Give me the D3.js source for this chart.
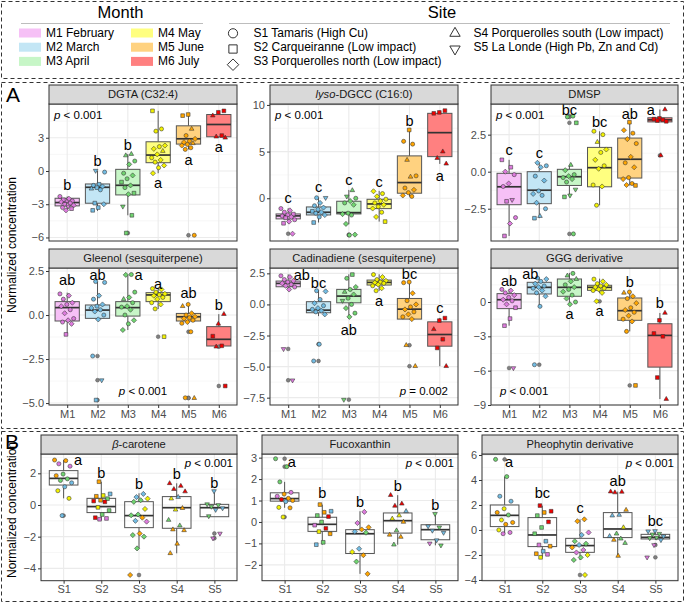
<!DOCTYPE html>
<html><head><meta charset="utf-8">
<script src="https://cdn.jsdelivr.net/npm/d3@7"></script>
<style>body{margin:0;background:#fff}svg{display:block;font-family:"Liberation Sans",Arial,sans-serif}</style>
</head><body><svg id="c" width="685" height="603"></svg>
<script>
// ---------------- categories ----------------
const months = ["M1","M2","M3","M4","M5","M6"];
const monthNames = ["February","March","April","May","June","July"];
const sites = ["S1","S2","S3","S4","S5"];
const siteNames = ["Tamaris (High Cu)","Carqueiranne (Low impact)","Porquerolles north (Low impact)","Porquerolles south (Low impact)","La Londe (High Pb, Zn and Cd)"];
const monthBoxFill = ["#F6C0F6","#C3E6F5","#C7F6C7","#FFFF80","#FFD280","#FF8080"];
const monthPointFill = ["#DD7BDD","#72BCE3","#70D470","#F2F200","#FFA500","#F00000"];

// ---------------- panel A data: box stats [lo,q1,med,q3,hi], points [value, site] ----------------
const dgtaBox = [[-3.6,-3.15,-2.85,-2.46,-2.3],[-3.6,-2.91,-1.47,-1.17,0.03],[-4.0,-2.16,-1.29,0.15,1.53],[-0.2,0.75,1.44,2.64,5.43],[1.95,2.43,2.91,4.08,5.1],[3.0,3.09,4.2,5.1,5.43]];
const dgtaPts = [
 [[-2.3,1],[-2.5,3],[-2.6,2],[-2.7,1],[-2.75,4],[-2.8,3],[-2.9,1],[-3.0,2],[-3.1,3],[-3.2,5],[-3.3,1],[-3.4,2],[-3.55,3]],
 [[0.03,5],[-0.1,1],[-1.2,2],[-1.3,1],[-1.4,3],[-1.5,2],[-1.6,4],[-1.7,1],[-2.9,2],[-3.0,3],[-3.3,2],[-3.55,2]],
 [[1.53,4],[1.4,4],[0.9,1],[0.6,3],[-0.2,1],[-0.4,3],[-0.7,1],[-1.0,2],[-1.3,3],[-1.5,1],[-2.0,2],[-2.1,3],[-3.2,5],[-4.0,2],[-5.6,2]],
 [[5.43,2],[3.8,1],[3.6,1],[2.3,3],[2.2,1],[2.0,3],[1.8,4],[1.5,3],[1.2,1],[1.0,3],[0.8,1],[0.5,3],[0.3,1],[-0.2,3]],
 [[5.1,2],[5.0,2],[3.8,4],[3.2,1],[2.9,3],[2.7,1],[2.6,3],[2.5,4],[2.4,1],[2.3,3],[2.1,1],[1.95,1],[-5.8,1]],
 [[5.43,2],[5.3,2],[5.0,4],[3.2,2],[3.1,4],[3.0,4]]];
const dgtaLet = [["b",-1.25,0],["b",0.9,0],["b",2.34,0],["a",-1.1,0],["a",1.0,0],["a",2.2,0]];

const lysoBox = [[-2.68,-2.21,-1.89,-1.68,-1.07],[-2.6,-1.79,-1.5,-0.93,0.1],[-2.79,-1.68,-1.54,-0.32,0.89],[-2.5,-1.11,-0.61,-0.11,0.79],[0.18,0.54,1.68,4.54,7.32],[3.68,4.46,7.03,9.1,9.39]];
const lysoPts = [
 [[-1.1,1],[-1.3,3],[-1.5,1],[-1.7,2],[-1.8,3],[-1.9,1],[-2.0,3],[-2.1,2],[-2.3,1],[-2.5,3],[-2.68,2],[-3.8,3]],
 [[0.05,1],[0.05,5],[-0.5,3],[-0.8,1],[-1.0,3],[-1.2,1],[-1.4,2],[-1.5,3],[-1.6,1],[-1.8,3],[-2.0,1],[-2.6,2]],
 [[0.85,4],[0.2,5],[0.0,1],[-0.3,3],[-0.5,1],[-0.7,3],[-1.6,1],[-1.7,3],[-1.8,1],[-2.75,3],[-3.9,3],[-3.95,1]],
 [[0.75,3],[0.5,1],[0.2,3],[-0.1,1],[-0.3,3],[-0.5,1],[-0.7,3],[-0.9,1],[-1.1,3],[-1.5,1],[-2.0,3],[-2.5,2]],
 [[7.32,2],[6.1,1],[5.8,1],[4.1,4],[2.4,1],[2.3,4],[1.1,1],[0.9,3],[0.6,1],[0.3,3],[0.2,1]],
 [[9.39,2],[9.2,2],[9.1,2],[5.0,4],[4.3,4],[3.7,4]]];
const lysoLet = [["c",0,0],["c",1.25,0],["c",2.0,0],["c",1.8,0],["b",8.3,0],["a",2.4,0]];

const dmspBox = [[-4.34,-2.23,-1.02,-0.11,0.8],[-3.14,-2.16,-1.25,0.0,0.6],[-1.7,-0.93,-0.34,0.16,0.45],[-2.27,-1.02,0.27,1.64,2.73],[-0.93,-0.43,0.84,2.27,3.34],[3.36,3.36,3.5,3.64,4.2]];
const dmspPts = [
 [[0.8,2],[0.3,2],[0.0,3],[-0.2,1],[-0.8,3],[-1.0,1],[-1.9,5],[-2.0,2],[-3.1,1],[-3.5,3],[-4.34,2]],
 [[0.6,3],[0.4,1],[0.3,3],[-0.3,1],[-0.6,3],[-1.3,1],[-1.5,3],[-1.6,1],[-2.1,3],[-2.5,1],[-3.0,4],[-3.14,2]],
 [[3.75,1],[3.7,1],[3.3,2],[0.45,4],[0.1,3],[-0.2,1],[-0.3,3],[-0.4,1],[-0.5,3],[-0.7,1],[-1.2,5],[-1.6,5],[-1.7,2],[-4.2,1]],
 [[2.73,1],[2.5,1],[2.0,4],[1.5,3],[1.3,1],[0.8,3],[0.4,1],[0.2,3],[-0.9,1],[-1.0,3],[-2.27,1]],
 [[3.34,2],[2.8,3],[2.6,1],[2.2,3],[1.9,1],[1.0,3],[0.6,1],[0.3,3],[-0.4,1],[-0.5,3],[-0.8,1],[-0.9,3],[-0.93,2]],
 [[4.2,4],[3.6,2],[3.55,2],[3.5,2],[3.45,2],[3.4,2],[1.1,4]]];
const dmspLet = [["c",1.48,0],["c",1.3,0],["bc",4.16,0],["bc",3.34,0],["ab",3.9,0],["a",4.16,-0.3]];

const gleeBox = [[-1.1,-0.34,0.42,0.76,1.27],[-0.25,-0.19,0.28,0.57,1.9],[-0.85,-0.06,0.42,0.76,2.3],[0.34,0.76,1.14,1.27,1.55],[-0.47,-0.34,-0.1,0.09,0.6],[-1.76,-1.76,-1.38,-0.66,0.05]];
const gleePts = [
 [[1.2,1],[1.1,3],[0.9,1],[0.7,3],[0.6,1],[0.5,3],[0.3,1],[0.1,3],[-0.2,1],[-0.3,3],[-0.4,1],[-0.5,3],[-1.1,2]],
 [[1.9,1],[1.85,1],[1.1,3],[0.9,1],[0.6,3],[0.5,1],[0.4,3],[0.3,1],[0.2,3],[0.0,1],[-0.25,3],[-2.33,1],[-3.7,5],[-4.83,2]],
 [[2.3,1],[2.28,3],[1.3,1],[1.0,3],[0.9,4],[0.7,1],[0.5,3],[0.45,1],[0.3,3],[0.0,1],[-0.3,3],[-0.5,1],[-0.85,3]],
 [[1.5,1],[1.45,3],[1.3,1],[1.2,3],[1.15,1],[1.1,3],[1.0,1],[0.9,3],[0.7,1],[0.6,3],[0.35,1],[-1.23,2]],
 [[0.6,1],[0.5,4],[0.1,3],[0.0,1],[-0.1,3],[-0.15,1],[-0.2,3],[-0.3,1],[-0.4,3],[-0.47,1],[-0.95,1],[-4.7,1],[-4.72,4]],
 [[0.05,4],[-0.5,4],[-1.2,2],[-1.75,2],[-1.8,4],[-4.03,2]]];
const gleeLet = [["ab",2.0,0],["ab",2.3,0],["a",2.3,0.35],["a",1.75,0],["ab",1.23,0],["b",0.6,0]];

const cadiBox = [[1.16,1.42,1.69,1.88,2.42],[-0.94,-0.67,-0.46,0.22,1.16],[-1.13,0.13,0.67,1.21,2.42],[1.1,1.56,1.77,1.96,2.42],[-1.18,-1.18,-0.38,0.48,1.83],[-4.97,-3.36,-2.42,-1.4,-1.08]];
const cadiPts = [
 [[2.3,1],[2.2,3],[2.0,1],[1.9,3],[1.8,1],[1.7,3],[1.6,1],[1.5,3],[1.4,1],[1.2,3],[-3.58,5],[-6.1,5]],
 [[1.1,1],[1.05,3],[0.4,1],[0.1,3],[-0.1,1],[-0.3,3],[-0.4,1],[-0.5,3],[-0.6,1],[-0.8,3],[-3.2,1],[-4.55,1]],
 [[2.4,2],[2.1,1],[1.4,3],[1.2,1],[1.0,4],[0.8,3],[0.5,1],[0.3,5],[0.0,1],[-0.3,3],[-0.7,1],[-1.0,3],[-7.66,5]],
 [[2.4,1],[2.2,3],[2.0,1],[1.9,3],[1.8,1],[1.75,3],[1.7,1],[1.6,3],[1.5,1],[1.3,3],[1.1,1]],
 [[1.8,1],[1.75,1],[0.9,3],[0.3,1],[0.0,3],[-0.2,1],[-0.4,3],[-0.6,1],[-0.8,3],[-1.0,1],[-1.18,3],[-3.28,4],[-4.97,4]],
 [[-1.1,2],[-1.3,2],[-2.0,4],[-2.8,2],[-3.5,2],[-4.97,4]]];
const cadiLet = [["ab",2.4,0.45],["bc",1.75,0],["ab",-2.07,0],["a",0.27,0],["bc",2.42,0],["c",-0.32,0]];

const gggBox = [[-2.07,-0.58,0.2,0.73,1.14],[-0.38,0.7,1.28,1.72,2.16],[-0.23,0.5,1.28,2.01,2.54],[0.79,1.02,1.28,1.46,2.04],[-2.57,-1.6,-0.76,0.35,0.87],[-8.48,-5.69,-2.92,-1.9,-0.96]];
const gggPts = [
 [[1.1,1],[1.0,3],[0.8,1],[0.6,3],[0.4,1],[0.2,3],[0.1,1],[-0.2,3],[-0.5,2],[-1.45,2],[-2.07,2],[-5.77,5]],
 [[2.1,1],[2.0,3],[1.8,1],[1.6,3],[1.4,1],[1.3,3],[1.2,1],[1.0,3],[0.8,1],[0.5,3],[-0.38,1],[-5.48,1]],
 [[2.5,1],[2.3,4],[2.0,4],[1.8,3],[1.5,1],[1.3,3],[1.1,1],[0.9,3],[0.6,1],[0.3,3],[0.0,1],[-0.2,3]],
 [[2.0,1],[1.8,3],[1.6,1],[1.5,3],[1.4,1],[1.3,3],[1.2,1],[1.1,3],[1.0,1],[0.8,3],[0.06,3]],
 [[0.87,1],[0.8,4],[0.5,3],[0.3,1],[-0.1,3],[-0.5,1],[-0.7,3],[-0.9,1],[-1.2,3],[-1.5,1],[-1.7,3],[-2.57,1],[-7.29,2]],
 [[-0.96,4],[-1.6,2],[-2.75,2],[-3.0,2],[-6.6,2],[-8.48,4]]];
const gggLet = [["ab",1.87,0],["ab",2.45,-0.3],["a",-1.02,0],["a",-0.82,0],["b",1.72,0],["b",-0.09,0]];

// ---------------- panel B data: box stats, points [value, month] ----------------
const betaBox = [[0.42,1.26,1.68,2.17,2.84],[-0.95,-0.48,-0.1,0.42,1.47],[-2.74,-1.43,-0.67,0.21,0.74],[-3.05,-1.47,-0.17,0.53,1.37],[-0.74,-0.74,-0.17,0.04,0.88]];
const betaPts = [
 [[2.84,5],[2.8,5],[2.6,1],[2.45,1],[1.95,3],[1.85,5],[1.65,3],[1.55,3],[1.4,2],[1.15,2],[0.9,4],[0.42,4],[-0.67,2]],
 [[1.47,5],[0.7,2],[0.6,4],[0.55,5],[0.4,3],[0.3,5],[0.25,6],[0.2,6],[-0.15,4],[-0.35,3],[-0.6,3],[-0.8,6],[-0.85,1],[-0.9,1]],
 [[0.7,2],[0.5,2],[0.4,4],[0.3,3],[0.2,3],[-0.25,4],[-0.6,3],[-0.65,3],[-0.8,5],[-1.0,2],[-1.05,1],[-1.8,5],[-1.9,3],[-2.0,3],[-2.74,3],[-4.42,5]],
 [[1.37,6],[1.2,6],[1.0,6],[0.85,6],[0.5,2],[0.4,4],[-0.2,5],[-0.3,4],[-0.95,3],[-1.3,3],[-1.55,5],[-1.6,5],[-2.45,5],[-3.05,5]],
 [[0.88,2],[0.05,3],[0.0,3],[-0.1,3],[-0.2,2],[-0.3,2],[-0.7,3],[-1.8,1],[-2.1,1]]];
const betaLet = [["a",2.84,0.38],["b",2.04,0],["b",1.3,0],["b",1.94,0],["b",1.37,0]];

const fucoBox = [[0.66,0.97,1.09,1.36,1.87],[-1.06,-0.44,-0.11,0.22,0.81],[-2.42,-1.47,-0.55,-0.36,0.5],[-1.06,-0.52,0.06,0.42,1.25],[-1.09,-0.83,-0.36,-0.13,0.38]];
const fucoPts = [
 [[2.95,3],[2.58,3],[1.87,3],[1.38,1],[1.3,5],[1.2,1],[1.1,5],[1.05,6],[1.0,5],[0.95,2],[0.68,4],[0.66,5],[0.23,4]],
 [[0.81,5],[0.5,2],[0.45,5],[0.3,3],[0.25,6],[0.0,3],[-0.15,1],[-0.3,6],[-0.45,4],[-0.55,5],[-0.95,3],[-1.06,2]],
 [[0.47,1],[-0.05,1],[-0.25,5],[-0.35,5],[-0.45,2],[-0.5,3],[-1.25,2],[-1.4,4],[-1.55,5],[-1.85,3],[-2.42,5]],
 [[1.25,6],[0.85,6],[0.75,6],[0.5,2],[0.3,4],[0.15,4],[0.0,5],[-0.4,3],[-0.6,5],[-0.7,5],[-1.06,3]],
 [[0.38,3],[-0.2,2],[-0.25,3],[-0.4,2],[-0.5,2],[-0.85,2],[-1.0,1],[-1.09,3]]];
const fucoLet = [["a",2.8,0.19],["b",1.36,0],["b",0.92,0],["b",1.67,0],["b",0.81,0]];

const pheoBox = [[-0.3,0.27,1.17,2.0,4.27],[-2.19,-1.33,-0.4,0.99,1.95],[-2.4,-1.79,-1.25,-0.67,0.85],[-2.08,-0.61,0.08,1.39,3.07],[-0.8,-0.72,-0.59,-0.35,-0.08]];
const pheoPts = [
 [[5.65,3],[4.27,3],[2.7,2],[2.3,2],[1.7,4],[1.4,5],[1.2,3],[0.8,4],[0.6,5],[0.45,5],[0.0,4],[-0.2,1],[-0.3,1]],
 [[1.95,6],[1.5,6],[1.4,5],[1.15,3],[0.65,6],[0.2,3],[-0.3,3],[-0.9,2],[-1.2,1],[-1.3,5],[-1.7,2],[-1.9,5],[-1.95,1],[-2.19,4]],
 [[0.85,5],[0.7,5],[-0.2,1],[-0.4,2],[-0.9,3],[-1.1,3],[-1.2,2],[-1.4,5],[-1.6,1],[-1.8,1],[-2.0,4],[-2.2,3],[-2.4,3],[-3.6,4]],
 [[3.07,6],[3.05,6],[3.0,6],[1.6,5],[1.2,2],[1.15,2],[0.2,4],[-0.3,3],[-0.5,2],[-0.7,3],[-0.8,5],[-1.05,3],[-2.08,5]],
 [[-0.08,2],[-0.1,2],[-0.3,3],[-0.35,3],[-0.5,2],[-0.6,3],[-0.65,3],[-0.8,2],[-1.2,1],[-2.19,1]]];
const pheoLet = [["a",5.47,0.12],["bc",2.99,0],["c",1.79,0],["ab",3.95,0],["bc",0.75,0]];

// ---------------- panel definitions ----------------
const panelsA = [
 {title:[["DGTA (C32:4)",0]], domain:[-6.32,6.05], ticks:[-6,-3,0,3], fmt:"d", box:dgtaBox, pts:dgtaPts, let:dgtaLet, p:["< 0.001","tl"]},
 {title:[["lyso",1],["-DGCC (C16:0)",0]], domain:[-4.58,10.1], ticks:[0,5,10], fmt:"d", box:lysoBox, pts:lysoPts, let:lysoLet, p:["< 0.001","tl"]},
 {title:[["DMSP",0]], domain:[-4.68,4.57], ticks:[-2.5,0,2.5], fmt:".1f", box:dmspBox, pts:dmspPts, let:dmspLet, p:["< 0.001","tl"]},
 {title:[["Gleenol (sesquiterpene)",0]], domain:[-5.11,2.67], ticks:[-5,-2.5,0,2.5], fmt:".1f", box:gleeBox, pts:gleePts, let:gleeLet, p:["< 0.001","bc"]},
 {title:[["Cadinadiene (sesquiterpene)",0]], domain:[-8.09,2.93], ticks:[-7.5,-5,-2.5,0,2.5], fmt:".1f", box:cadiBox, pts:cadiPts, let:cadiLet, p:["= 0.002","br"]},
 {title:[["GGG derivative",0]], domain:[-9.0,2.97], ticks:[-9,-6,-3,0], fmt:"d", box:gggBox, pts:gggPts, let:gggLet, p:["< 0.001","bl"]}];
const panelsB = [
 {title:[["β",1],["-carotene",0]], domain:[-4.78,3.22], ticks:[-4,-2,0,2], fmt:"d", box:betaBox, pts:betaPts, let:betaLet, p:["< 0.001","tr"]},
 {title:[["Fucoxanthin",0]], domain:[-2.74,3.17], ticks:[-2,-1,0,1,2,3], fmt:"d", box:fucoBox, pts:fucoPts, let:fucoLet, p:["< 0.001","tr"]},
 {title:[["Pheophytin derivative",0]], domain:[-4.06,6.08], ticks:[-4,-2,0,2,4,6], fmt:"d", box:pheoBox, pts:pheoPts, let:pheoLet, p:["< 0.001","tr"]}];

// ---------------- drawing ----------------
const svg = d3.select("#c");
const INK = "#1a1a1a", TICK = "#4D4D4D";

function shapePath(s, r) {
  const p = d3.path();
  if (s === 1) { p.arc(0,0,r,0,2*Math.PI); }
  else if (s === 2) { const h=r*0.9; p.rect(-h,-h,2*h,2*h); }
  else if (s === 3) { const h=r*1.25; p.moveTo(0,-h); p.lineTo(h,0); p.lineTo(0,h); p.lineTo(-h,0); p.closePath(); }
  else if (s === 4) { const h=r*1.3; p.moveTo(0,-h); p.lineTo(h*0.866,h*0.5); p.lineTo(-h*0.866,h*0.5); p.closePath(); }
  else { const h=r*1.3; p.moveTo(0,h); p.lineTo(h*0.866,-h*0.5); p.lineTo(-h*0.866,-h*0.5); p.closePath(); }
  return p.toString();
}
function jit(i, g) { const t = (i*0.6180339887 + g*0.37) % 1; return (t - 0.5) * 0.48; }

function drawPanel(P, L, R, sTop, pTop, pBot, showX, isB) {
  const cats = isB ? sites : months;
  const g = svg.append("g");
  const x = d3.scalePoint().domain(cats).range([L, R]).padding(0.6);
  const step = x.step();
  const y = d3.scaleLinear().domain(P.domain).range([pBot, pTop]);
  const t = P.ticks, d = t[1]-t[0];
  const minor = [];
  for (let v = t[0]-d/2; v <= P.domain[1]; v += d) if (v >= P.domain[0]) minor.push(v);
  g.selectAll(".mn").data(minor).join("line").attr("x1",L).attr("x2",R)
    .attr("y1",v=>y(v)).attr("y2",v=>y(v)).attr("stroke","#F2F2F2").attr("stroke-width",0.6);
  g.selectAll(".mj").data(t).join("line").attr("x1",L).attr("x2",R)
    .attr("y1",v=>y(v)).attr("y2",v=>y(v)).attr("stroke","#EBEBEB").attr("stroke-width",1.1);
  g.selectAll(".vj").data(cats).join("line").attr("y1",pTop).attr("y2",pBot)
    .attr("x1",c=>x(c)).attr("x2",c=>x(c)).attr("stroke","#EBEBEB").attr("stroke-width",1.1);
  const bw = step * (isB ? 0.76 : 0.8);
  P.box.forEach((b, i) => {
    const cx = x(cats[i]);
    const col = isB ? "none" : monthBoxFill[i];
    g.append("line").attr("x1",cx).attr("x2",cx).attr("y1",y(b[4])).attr("y2",y(b[3])).attr("stroke","#555").attr("stroke-width",1);
    g.append("line").attr("x1",cx).attr("x2",cx).attr("y1",y(b[1])).attr("y2",y(b[0])).attr("stroke","#555").attr("stroke-width",1);
    g.append("rect").attr("x",cx-bw/2).attr("width",bw).attr("y",y(b[3])).attr("height",Math.max(0.5,y(b[1])-y(b[3])))
      .attr("fill",col).attr("stroke","#555").attr("stroke-width",1);
    g.append("line").attr("x1",cx-bw/2).attr("x2",cx+bw/2).attr("y1",y(b[2])).attr("y2",y(b[2])).attr("stroke","#333").attr("stroke-width",1.7);
    P.pts[i].filter(p => p[0] > b[4]+0.02 || p[0] < b[0]-0.02).forEach(p => {
      g.append("circle").attr("cx",cx).attr("cy",y(p[0])).attr("r",1.9).attr("fill","#808080").attr("stroke","#555").attr("stroke-width",0.5);
    });
  });
  P.pts.forEach((grp, i) => {
    const cx = x(cats[i]);
    grp.forEach((p, j) => {
      const shape = isB ? i+1 : p[1];
      const mi = isB ? p[1]-1 : i;
      g.append("path").attr("d", shapePath(shape, 2.05))
        .attr("transform", `translate(${cx + jit(j, i)*step},${y(p[0])})`)
        .attr("fill", monthPointFill[mi]).attr("stroke","#333").attr("stroke-width",0.55);
    });
  });
  P.let.forEach((l, i) => {
    g.append("text").attr("x", x(cats[i]) + l[2]*step).attr("y", y(l[1])).attr("dy","0.35em")
      .attr("text-anchor","middle").attr("font-size",14.5).attr("fill","#000").text(l[0]);
  });
  let px, py, anc;
  const pos = P.p[1];
  if (pos === "tl") { px = L+5; py = pTop+14.5; anc = "start"; }
  else if (pos === "tr") { px = R-4; py = pTop+12.5; anc = "end"; }
  else if (pos === "bl") { px = L+9; py = pBot-10.5; anc = "start"; }
  else if (pos === "br") { px = R-10; py = pBot-10.5; anc = "end"; }
  else { px = (L+R)/2; py = pBot-10.5; anc = "middle"; }
  const pt = g.append("text").attr("x",px).attr("y",py).attr("text-anchor",anc).attr("font-size",11.5).attr("fill","#000");
  pt.append("tspan").attr("font-style","italic").text("p");
  pt.append("tspan").text(" " + P.p[0]);
  g.append("rect").attr("x",L).attr("y",pTop).attr("width",R-L).attr("height",pBot-pTop).attr("fill","none").attr("stroke","#333").attr("stroke-width",1);
  g.append("rect").attr("x",L).attr("y",sTop).attr("width",R-L).attr("height",pTop-sTop).attr("fill","#D9D9D9").attr("stroke","#333").attr("stroke-width",1);
  const st = g.append("text").attr("x",(L+R)/2).attr("y",(sTop+pTop)/2).attr("dy","0.35em").attr("text-anchor","middle").attr("font-size",11.2).attr("fill",INK);
  P.title.forEach(s => st.append("tspan").attr("font-style", s[1] ? "italic" : "normal").text(s[0]));
  const ya = g.append("g").attr("transform",`translate(${L},0)`)
    .call(d3.axisLeft(y).tickValues(P.ticks).tickFormat(d3.format(P.fmt)).tickSize(3).tickPadding(2));
  ya.select(".domain").remove();
  ya.selectAll("line").attr("stroke","#333");
  ya.selectAll("text").attr("fill",TICK).attr("font-size",11).attr("font-family","Liberation Sans, Arial, sans-serif");
  if (showX) {
    const xa = g.append("g").attr("transform",`translate(0,${pBot})`)
      .call(d3.axisBottom(x).tickSize(3).tickPadding(2));
    xa.select(".domain").remove();
    xa.selectAll("line").attr("stroke","#333");
    xa.selectAll("text").attr("fill",TICK).attr("font-size",11).attr("font-family","Liberation Sans, Arial, sans-serif");
  }
}

// ---------------- legend ----------------
const dash = "4,3";
svg.append("rect").attr("x",1.5).attr("y",1.5).attr("width",682).attr("height",77).attr("fill","none").attr("stroke","#333").attr("stroke-dasharray",dash);
svg.append("text").attr("x",120.5).attr("y",18).attr("text-anchor","middle").attr("font-size",16.5).attr("fill","#000").text("Month");
svg.append("line").attr("x1",21).attr("x2",203).attr("y1",23.5).attr("y2",23.5).attr("stroke","#BDBDBD").attr("stroke-width",1);
months.forEach((m, i) => {
  const col = Math.floor(i/3), row = i%3;
  const sx = col ? 131 : 19, ty = 28.5 + row*14.2;
  svg.append("rect").attr("x",sx).attr("y",ty).attr("width",22).attr("height",9).attr("fill",monthBoxFill[i]);
  svg.append("text").attr("x",sx+27).attr("y",ty+8.4).attr("font-size",12).attr("fill","#000").text(m + " " + monthNames[i]);
});
svg.append("text").attr("x",442).attr("y",18).attr("text-anchor","middle").attr("font-size",16.5).attr("fill","#000").text("Site");
svg.append("line").attr("x1",229).attr("x2",670).attr("y1",23.5).attr("y2",23.5).attr("stroke","#BDBDBD").attr("stroke-width",1);
sites.forEach((s, i) => {
  const col = i < 3 ? 0 : 1, row = i < 3 ? i : i-3;
  const sx = col ? 455 : 233, cy = 33.3 + row*15.7;
  svg.append("path").attr("d", shapePath(i+1, 4.6)).attr("transform",`translate(${sx},${cy})`)
    .attr("fill","none").attr("stroke","#333").attr("stroke-width",1);
  svg.append("text").attr("x",sx+(col?18.5:20.5)).attr("y",36.7 + row*14.2).attr("font-size",12).attr("fill","#000").text(s + " " + siteNames[i]);
});

// ---------------- section frames ----------------
svg.append("rect").attr("x",1.5).attr("y",82.5).attr("width",682).attr("height",346).attr("fill","none").attr("stroke","#333").attr("stroke-dasharray",dash);
svg.append("rect").attr("x",1.5).attr("y",431.5).attr("width",682).attr("height",170).attr("fill","none").attr("stroke","#333").attr("stroke-dasharray",dash);
svg.append("text").attr("x",6).attr("y",102).attr("font-size",21).attr("fill","#000").text("A");
svg.append("text").attr("x",5).attr("y",449).attr("font-size",21).attr("fill","#000").text("B");

const colsA = [[49,237],[270,458],[491,678]];
const rowsA = [[85,104,241],[249,268,405]];
panelsA.forEach((P, k) => {
  const c = colsA[k%3], r = rowsA[Math.floor(k/3)];
  drawPanel(P, c[0], c[1], r[0], r[1], r[2], k >= 3, false);
});
const colsB = [[41,237],[262,458],[482,678]];
panelsB.forEach((P, k) => drawPanel(P, colsB[k][0], colsB[k][1], 435, 454, 580.7, true, true));

svg.append("text").attr("transform","translate(16,245) rotate(-90)").attr("text-anchor","middle").attr("font-size",12).attr("fill","#000").text("Normalized concentration");
svg.append("text").attr("transform","translate(16,510) rotate(-90)").attr("text-anchor","middle").attr("font-size",12).attr("fill","#000").text("Normalized concentration");
</script></body></html>
